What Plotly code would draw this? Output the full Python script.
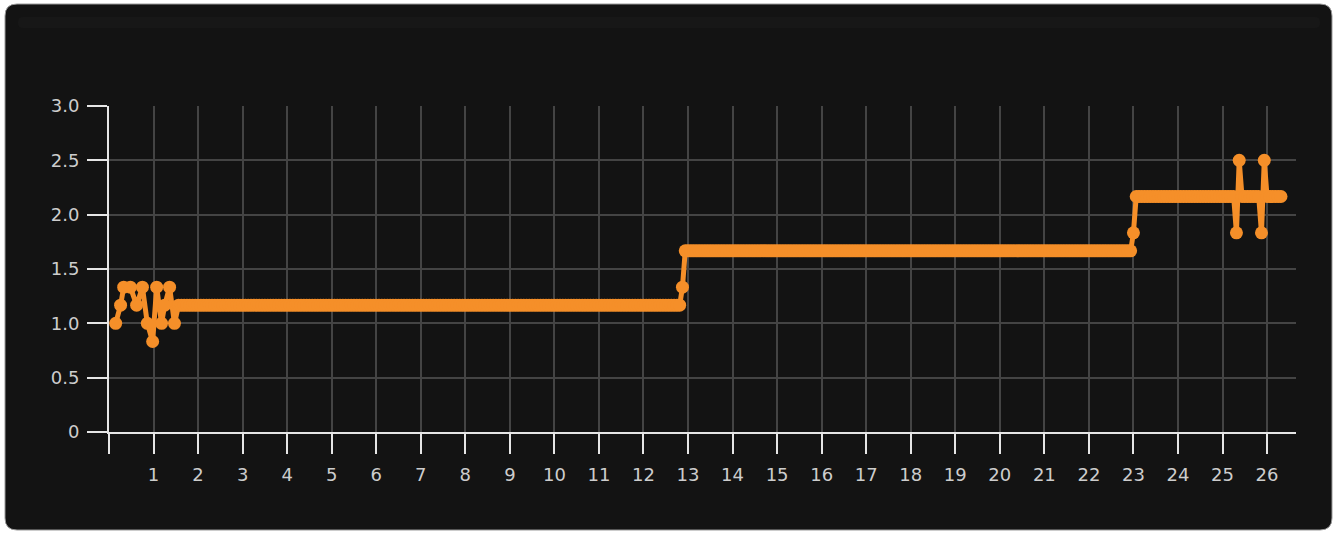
import plotly.graph_objects as go

# ---- data ----
# early, irregular readings
cluster_x = [0.15, 0.26, 0.33, 0.48, 0.62, 0.75, 0.86, 0.98, 1.07, 1.18, 1.25, 1.36, 1.47]
cluster_y = [1.0, 1.167, 1.333, 1.333, 1.167, 1.333, 1.0, 0.833, 1.333, 1.0, 1.167, 1.333, 1.0]

# regular readings afterwards (one every 1/16 day, starting at day 1.5625)
sampled_start = 1.5625
sampled_step = 0.0625
sampled_values = [
    # 1.167 level (181 readings)
    1.167, 1.167, 1.167, 1.167, 1.167, 1.167, 1.167, 1.167, 1.167, 1.167, 1.167, 1.167, 1.167, 1.167, 1.167, 1.167, 1.167, 1.167, 1.167, 1.167,
    1.167, 1.167, 1.167, 1.167, 1.167, 1.167, 1.167, 1.167, 1.167, 1.167, 1.167, 1.167, 1.167, 1.167, 1.167, 1.167, 1.167, 1.167, 1.167, 1.167,
    1.167, 1.167, 1.167, 1.167, 1.167, 1.167, 1.167, 1.167, 1.167, 1.167, 1.167, 1.167, 1.167, 1.167, 1.167, 1.167, 1.167, 1.167, 1.167, 1.167,
    1.167, 1.167, 1.167, 1.167, 1.167, 1.167, 1.167, 1.167, 1.167, 1.167, 1.167, 1.167, 1.167, 1.167, 1.167, 1.167, 1.167, 1.167, 1.167, 1.167,
    1.167, 1.167, 1.167, 1.167, 1.167, 1.167, 1.167, 1.167, 1.167, 1.167, 1.167, 1.167, 1.167, 1.167, 1.167, 1.167, 1.167, 1.167, 1.167, 1.167,
    1.167, 1.167, 1.167, 1.167, 1.167, 1.167, 1.167, 1.167, 1.167, 1.167, 1.167, 1.167, 1.167, 1.167, 1.167, 1.167, 1.167, 1.167, 1.167, 1.167,
    1.167, 1.167, 1.167, 1.167, 1.167, 1.167, 1.167, 1.167, 1.167, 1.167, 1.167, 1.167, 1.167, 1.167, 1.167, 1.167, 1.167, 1.167, 1.167, 1.167,
    1.167, 1.167, 1.167, 1.167, 1.167, 1.167, 1.167, 1.167, 1.167, 1.167, 1.167, 1.167, 1.167, 1.167, 1.167, 1.167, 1.167, 1.167, 1.167, 1.167,
    1.167, 1.167, 1.167, 1.167, 1.167, 1.167, 1.167, 1.167, 1.167, 1.167, 1.167, 1.167, 1.167, 1.167, 1.167, 1.167, 1.167, 1.167, 1.167, 1.167,
    1.167,
    # transition
    1.333,
    # 1.667 level (161 readings)
    1.667, 1.667, 1.667, 1.667, 1.667, 1.667, 1.667, 1.667, 1.667, 1.667, 1.667, 1.667, 1.667, 1.667, 1.667, 1.667, 1.667, 1.667, 1.667, 1.667,
    1.667, 1.667, 1.667, 1.667, 1.667, 1.667, 1.667, 1.667, 1.667, 1.667, 1.667, 1.667, 1.667, 1.667, 1.667, 1.667, 1.667, 1.667, 1.667, 1.667,
    1.667, 1.667, 1.667, 1.667, 1.667, 1.667, 1.667, 1.667, 1.667, 1.667, 1.667, 1.667, 1.667, 1.667, 1.667, 1.667, 1.667, 1.667, 1.667, 1.667,
    1.667, 1.667, 1.667, 1.667, 1.667, 1.667, 1.667, 1.667, 1.667, 1.667, 1.667, 1.667, 1.667, 1.667, 1.667, 1.667, 1.667, 1.667, 1.667, 1.667,
    1.667, 1.667, 1.667, 1.667, 1.667, 1.667, 1.667, 1.667, 1.667, 1.667, 1.667, 1.667, 1.667, 1.667, 1.667, 1.667, 1.667, 1.667, 1.667, 1.667,
    1.667, 1.667, 1.667, 1.667, 1.667, 1.667, 1.667, 1.667, 1.667, 1.667, 1.667, 1.667, 1.667, 1.667, 1.667, 1.667, 1.667, 1.667, 1.667, 1.667,
    1.667, 1.667, 1.667, 1.667, 1.667, 1.667, 1.667, 1.667, 1.667, 1.667, 1.667, 1.667, 1.667, 1.667, 1.667, 1.667, 1.667, 1.667, 1.667, 1.667,
    1.667, 1.667, 1.667, 1.667, 1.667, 1.667, 1.667, 1.667, 1.667, 1.667, 1.667, 1.667, 1.667, 1.667, 1.667, 1.667, 1.667, 1.667, 1.667, 1.667,
    1.667,
    # transition
    1.833,
    # 2.167 level (36 readings)
    2.167, 2.167, 2.167, 2.167, 2.167, 2.167, 2.167, 2.167, 2.167, 2.167, 2.167, 2.167, 2.167, 2.167, 2.167, 2.167, 2.167, 2.167, 2.167, 2.167,
    2.167, 2.167, 2.167, 2.167, 2.167, 2.167, 2.167, 2.167, 2.167, 2.167, 2.167, 2.167, 2.167, 2.167, 2.167, 2.167,
    # first spike
    1.833, 2.5,
    2.167, 2.167, 2.167, 2.167, 2.167, 2.167, 2.167,
    # second spike
    1.833, 2.5,
    2.167, 2.167, 2.167, 2.167, 2.167, 2.167,
]
sampled_x = [sampled_start + i * sampled_step for i in range(len(sampled_values))]

x_days = cluster_x + sampled_x
values = cluster_y + sampled_values

x_tick_values = list(range(0, 27))
x_tick_labels = [""] + [str(v) for v in range(1, 27)]
y_tick_values = [0, 0.5, 1.0, 1.5, 2.0, 2.5, 3.0]
y_tick_labels = ["0", "0.5", "1.0", "1.5", "2.0", "2.5", "3.0"]

# ---- layout geometry ----
W, H = 1337, 533
ML, MR, MT, MB = 109, 41, 106, 101
PW, PH = W - ML - MR, H - MT - MB

ORANGE = "#f58f29"
GRID = "#444444"
AXIS = "#e6e6e6"
TICKFONT = dict(family="DejaVu Sans", size=18, color="#cdcdcd")


def px_to_paper_x(px):
    return (px - ML) / PW


def px_to_paper_y(py):
    return (H - MB - py) / PH


def rounded_rect(x0, y0, x1, y1, r):
    ax0, ax1 = px_to_paper_x(x0), px_to_paper_x(x1)
    ay0, ay1 = px_to_paper_y(y0), px_to_paper_y(y1)
    rx, ry = r / PW, r / PH
    return (
        f"M {ax0 + rx},{ay0} L {ax1 - rx},{ay0} Q {ax1},{ay0} {ax1},{ay0 - ry} "
        f"L {ax1},{ay1 + ry} Q {ax1},{ay1} {ax1 - rx},{ay1} "
        f"L {ax0 + rx},{ay1} Q {ax0},{ay1} {ax0},{ay1 + ry} "
        f"L {ax0},{ay0 - ry} Q {ax0},{ay0} {ax0 + rx},{ay0} Z"
    )


fig = go.Figure()
fig.add_trace(
    go.Scatter(
        x=x_days,
        y=values,
        mode="lines+markers",
        line=dict(color=ORANGE, width=5),
        marker=dict(color=ORANGE, size=13),
        hoverinfo="skip",
        showlegend=False,
    )
)

fig.update_layout(
    width=W,
    height=H,
    margin=dict(l=ML, r=MR, t=MT, b=MB, pad=0),
    paper_bgcolor="#ffffff",
    plot_bgcolor="rgba(0,0,0,0)",
    showlegend=False,
    shapes=[
        dict(type="path", xref="paper", yref="paper", layer="below",
             path=rounded_rect(5, 4, 1332, 530, 12),
             fillcolor="#131313", line=dict(color="#9a9a9a", width=1)),
        dict(type="path", xref="paper", yref="paper", layer="below",
             path=rounded_rect(18, 17, 1320, 28, 5),
             fillcolor="#171717", line=dict(width=0)),
    ],
    xaxis=dict(
        range=[0, 26.65],
        tickmode="array",
        tickvals=x_tick_values,
        ticktext=x_tick_labels,
        ticks="outside",
        ticklen=20,
        tickwidth=2,
        tickcolor=AXIS,
        showline=True,
        linecolor=AXIS,
        linewidth=2,
        showgrid=True,
        gridcolor=GRID,
        gridwidth=1.5,
        zeroline=False,
        tickfont=TICKFONT,
        ticklabelstandoff=5,
        fixedrange=True,
    ),
    yaxis=dict(
        range=[0, 3.0],
        tickmode="array",
        tickvals=y_tick_values,
        ticktext=y_tick_labels,
        ticks="outside",
        ticklen=20,
        tickwidth=2,
        tickcolor=AXIS,
        showline=True,
        linecolor=AXIS,
        linewidth=2,
        showgrid=True,
        gridcolor=GRID,
        gridwidth=1.5,
        zeroline=False,
        tickfont=TICKFONT,
        ticklabelstandoff=4,
        fixedrange=True,
    ),
)

fig.write_html(
    "out.html",
    config={"displayModeBar": False},
    post_script="document.body.style.margin='0';document.body.style.background='#ffffff';",
)
